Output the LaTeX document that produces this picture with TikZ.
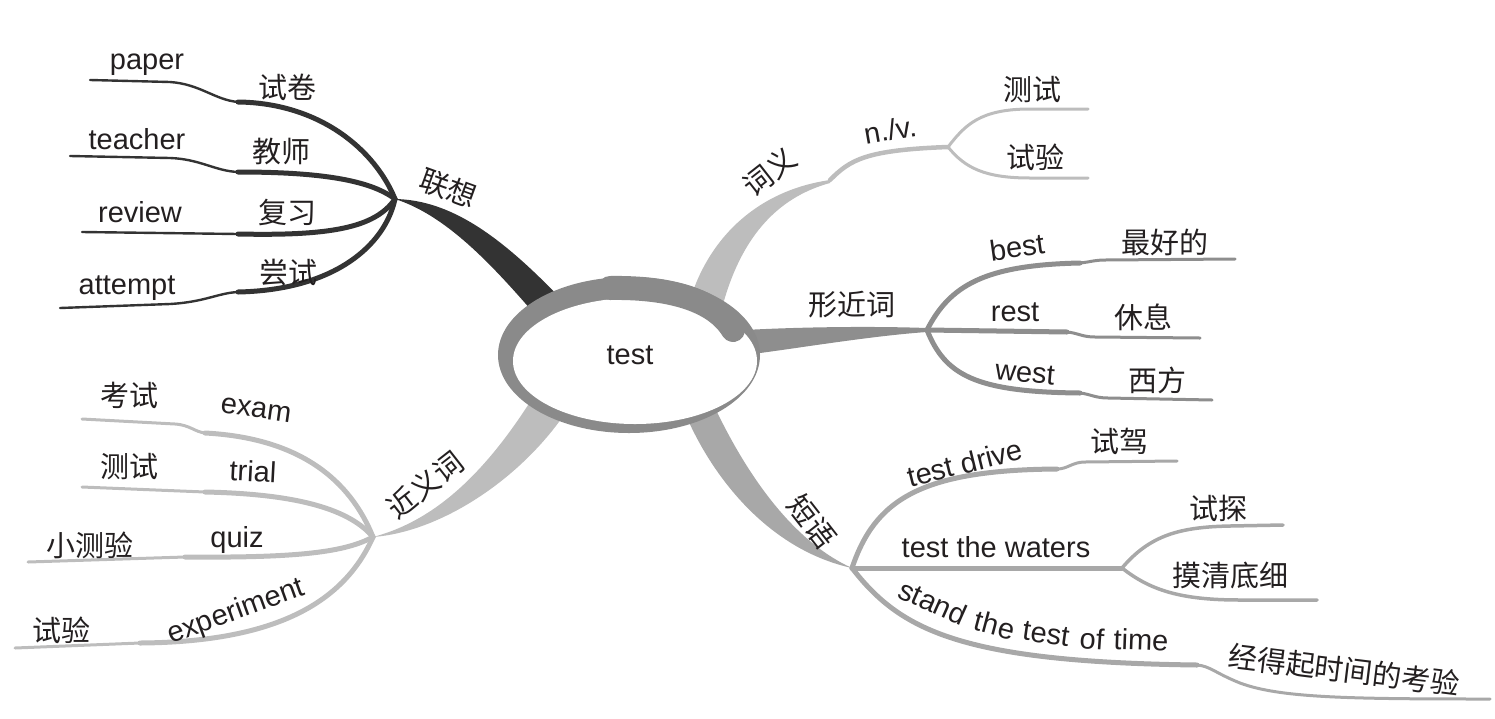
\documentclass[tikz,border=0pt]{standalone}
\usepackage{fontspec}
\setmainfont{Liberation Sans}
\newfontfamily\cjk{Noto Sans CJK SC}

\definecolor{brdark}{HTML}{333333}
\definecolor{brlight}{HTML}{BDBDBD}
\definecolor{brmid}{HTML}{8E8E8E}
\definecolor{brphr}{HTML}{A8A8A8}
\definecolor{ringgray}{HTML}{8A8A8A}
\definecolor{ink}{HTML}{231F20}

\begin{document}
\begin{tikzpicture}[ x=1pt, y=-1pt,
  en/.style={font=\fontsize{29}{32}\selectfont, text=ink, inner sep=0pt},
  zh/.style={font=\cjk\fontsize{29}{32}\selectfont, text=ink, inner sep=0pt},
  stem/.style={line width=5pt, line cap=round},
  twig/.style={line width=2.4pt, line cap=round} ]

\useasboundingbox (0,0) rectangle (1495,718);

% hubs
\coordinate (hubL) at (395,199);
\coordinate (hubS) at (373,537);
\coordinate (meanS) at (830,180);
\coordinate (hubT) at (948,147);
\coordinate (hubM) at (927,330);
\coordinate (hubR) at (852,568);
\coordinate (hubW) at (1122,568);

% main branches
\fill[brdark] (hubL) .. controls (450,200) and (500,235) .. (562,300) -- (538,318) .. controls (490,262) and (445,215) .. (hubL) -- cycle;
\fill[brlight] (hubS) .. controls (430,522) and (480,480) .. (530,402) -- (566,412) .. controls (520,480) and (440,532) .. (hubS) -- cycle;
\fill[brlight] (690,300) .. controls (710,235) and (760,190) .. (meanS) -- (830,183) .. controls (775,198) and (740,240) .. (722,308) -- cycle;
\fill[brmid] (745,330) .. controls (800,327) and (870,326) .. (927,328) -- (927,332) .. controls (870,336) and (800,348) .. (745,355) -- cycle;
\fill[brphr] (688,420) .. controls (715,480) and (770,550) .. (hubR) .. controls (790,540) and (745,470) .. (716,410) -- cycle;

% lianxiang
\coordinate (paperS) at (238,102); \coordinate (paperE) at (90,80);
\coordinate (tchS) at (238,172);   \coordinate (tchE) at (70,156);
\coordinate (revS) at (238,234);   \coordinate (revE) at (82,232);
\coordinate (attS) at (238,292);   \coordinate (attE) at (60,308);
\begin{scope}[brdark]
\draw[stem] (hubL) .. controls (375,150) and (320,103) .. (paperS);
\draw[twig] (paperS) .. controls (215,100) and (200,84) .. (170,82) -- (paperE);
\draw[stem] (hubL) .. controls (370,180) and (320,172) .. (tchS);
\draw[twig] (tchS) .. controls (215,171) and (200,159) .. (170,158) -- (tchE);
\draw[stem] (hubL) .. controls (375,228) and (330,236) .. (revS);
\draw[twig] (revS) -- (revE);
\draw[stem] (hubL) .. controls (385,245) and (335,290) .. (attS);
\draw[twig] (attS) .. controls (218,293) and (205,302) .. (170,304) -- (attE);
\end{scope}

% jinyici
\coordinate (examS) at (205,433); \coordinate (examE) at (82,419);
\coordinate (trialS) at (205,492); \coordinate (trialE) at (82,487);
\coordinate (quizS) at (185,557); \coordinate (quizE) at (28,562);
\coordinate (expS) at (140,643); \coordinate (expE) at (15,648);
\begin{scope}[brlight]
\draw[stem] (hubS) .. controls (350,480) and (300,438) .. (examS);
\draw[twig, line width=3pt] (examS) .. controls (195,432) and (190,425) .. (175,424) -- (examE);
\draw[stem] (hubS) .. controls (350,510) and (300,494) .. (trialS);
\draw[twig, line width=3pt] (trialS) -- (trialE);
\draw[stem] (hubS) .. controls (345,552) and (300,558) .. (quizS);
\draw[twig, line width=3pt] (quizS) -- (quizE);
\draw[stem] (hubS) .. controls (345,600) and (280,642) .. (expS);
\draw[twig, line width=3pt] (expS) -- (expE);
\end{scope}

% ciyi
\coordinate (ceshiE) at (1088,109);
\coordinate (shiyanE) at (1088,178);
\begin{scope}[brlight]
\draw[stem, line width=4.5pt] (meanS) .. controls (850,160) and (865,150) .. (hubT);
\draw[twig, line width=3pt] (hubT) .. controls (965,125) and (980,109) .. (1030,109) -- (ceshiE);
\draw[twig, line width=3pt] (hubT) .. controls (965,168) and (985,178) .. (1030,178) -- (shiyanE);
\end{scope}

% xingjinci
\coordinate (bestS) at (1080,263); \coordinate (bestE) at (1235,259);
\coordinate (restS) at (1067,332); \coordinate (restE) at (1200,338);
\coordinate (westS) at (1080,393); \coordinate (westE) at (1212,400);
\begin{scope}[brmid]
\draw[stem] (hubM) .. controls (950,285) and (985,265) .. (bestS);
\draw[twig, line width=3pt] (bestS) .. controls (1090,262) and (1095,260) .. (1105,260) -- (bestE);
\draw[stem] (hubM) -- (restS);
\draw[twig, line width=3pt] (restS) .. controls (1078,333) and (1082,337) .. (1095,337) -- (restE);
\draw[stem] (hubM) .. controls (945,375) and (975,392) .. (westS);
\draw[twig, line width=3pt] (westS) .. controls (1090,394) and (1095,398) .. (1108,398) -- (westE);
\end{scope}

% duanyu
\coordinate (driveS) at (1057,469); \coordinate (driveE) at (1177,461);
\coordinate (tanE) at (1283,525);   \coordinate (moE) at (1317,600);
\coordinate (timeS) at (1197,665);  \coordinate (timeE) at (1490,699);
\begin{scope}[brphr]
\draw[stem] (hubR) .. controls (875,500) and (920,470) .. (driveS);
\draw[twig, line width=3pt] (driveS) .. controls (1068,469) and (1072,462) .. (1085,462) -- (driveE);
\draw[stem] (hubR) -- (hubW);
\draw[twig, line width=3.5pt] (hubW) .. controls (1150,535) and (1180,527) .. (1230,526) -- (tanE);
\draw[twig, line width=3.5pt] (hubW) .. controls (1150,590) and (1180,600) .. (1240,600) -- (moE);
\draw[stem] (hubR) .. controls (900,630) and (960,662) .. (timeS);
\draw[twig, line width=3pt] (timeS) .. controls (1210,666) and (1215,673) .. (1240,683) .. controls (1280,698) and (1350,699) .. (timeE);
\end{scope}

% centre
\fill[ringgray] (629,355) ellipse [x radius=131pt, y radius=78pt];
\fill[white] (635,361) ellipse [x radius=122pt, y radius=63pt];
\draw[ringgray, line width=24pt, line cap=round] (610,288) .. controls (670,287) and (715,300) .. (733,330);
\node[en] (test) at (630,355) {test};

% labels
\node[zh, rotate=-20] (lianxiang) at (448,188) {联想};
\node[zh] (shijuan) at (287,87) {试卷};
\node[zh] (jiaoshi) at (281,152) {教师};
\node[zh] (fuxi) at (287,212) {复习};
\node[zh] (changshi) at (288,272) {尝试};
\node[en] (paper) at (147,65) {paper};
\node[en] (teacher) at (137,139) {teacher};
\node[en] (review) at (140,212) {review};
\node[en] (attempt) at (127,288) {attempt};

\node[zh, rotate=38] (jinyici) at (425,485) {近义词};
\node[zh] (kaoshi) at (129,395) {考试};
\node[zh] (ceshiL) at (129,467) {测试};
\node[zh] (xiaoceyan) at (90,545) {小测验};
\node[zh] (shiyanL) at (61,630) {试验};
\node[en, rotate=-8] (exam) at (256,410) {exam};
\node[en, rotate=-3] (trial) at (253,471) {trial};
\node[en] (quiz) at (237,540) {quiz};
\node[en, rotate=20] (experiment) at (236,612) {experiment};

\node[zh, rotate=38] (ciyi) at (770,172) {词义};
\node[en, rotate=10] (nv) at (890,130) {n./v.};
\node[zh] (ceshiR) at (1032,90) {测试};
\node[zh] (shiyanR) at (1035,157) {试验};

\node[zh] (xingjinci) at (852,305) {形近词};
\node[en, rotate=8] (best) at (1017,247) {best};
\node[en] (rest) at (1015,312) {rest};
\node[en, rotate=-5] (west) at (1025,373) {west};
\node[zh] (zuihaode) at (1165,242) {最好的};
\node[zh] (xiuxi) at (1143,317) {休息};
\node[zh] (xifang) at (1157,380) {西方};

\node[zh, rotate=-52] (duanyu) at (812,522) {短语};
\node[en, rotate=14] (drive) at (965,463) {test drive};
\node[en] (waters) at (996,547) {test the waters};
\node[zh] (shijia) at (1119,441) {试驾};
\node[zh] (shitan) at (1218,508) {试探};
\node[zh] (moqing) at (1230,575) {摸清底细};
\node[zh, rotate=-7] (jingde) at (1344,670) {经得起时间的考验};
\node[en, rotate=-24] (stand) at (933,602) {stand};
\node[en, rotate=-15] (stthe) at (995,625) {the};
\node[en, rotate=-8] (sttest) at (1046,634) {test};
\node[en, rotate=-4] (stof) at (1092,639) {of};
\node[en, rotate=-2] (sttime) at (1141,640) {time};

\end{tikzpicture}
\end{document}
